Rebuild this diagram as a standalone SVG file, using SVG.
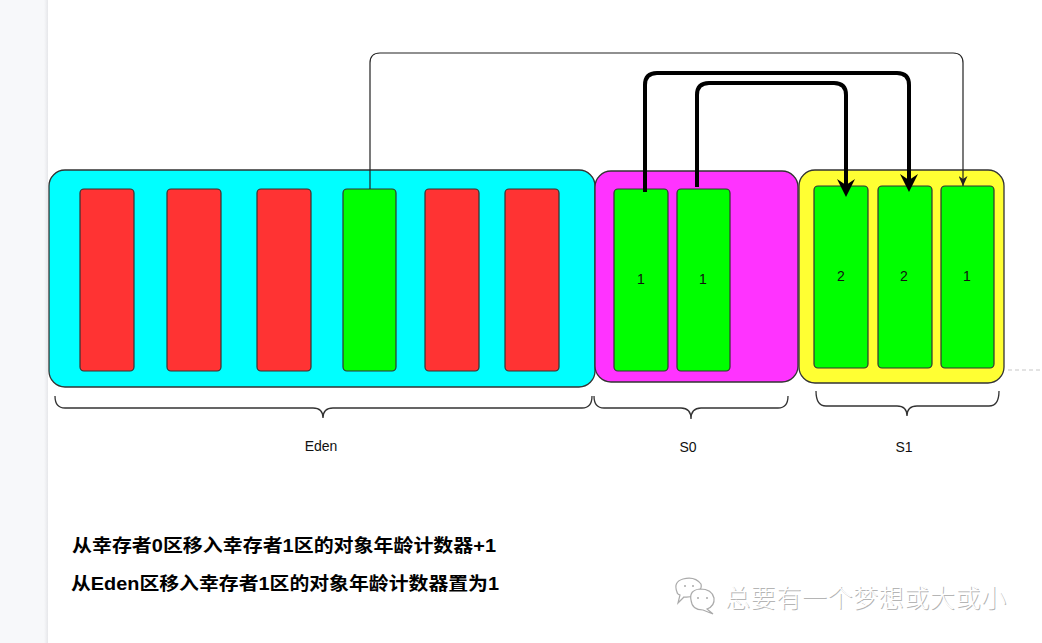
<svg xmlns="http://www.w3.org/2000/svg" width="1042" height="643" viewBox="0 0 1042 643">
<defs>
<style>
.box{stroke:#333;stroke-width:1.3}
.red{fill:#ff3333;stroke:#333;stroke-width:1.2}
.grn{fill:#00ff00;stroke:#333;stroke-width:1.2}
.lbl{font-family:"Liberation Sans",Arial,sans-serif;font-size:14px;fill:#111;text-anchor:middle}
.brace{fill:none;stroke:#333;stroke-width:1.3}
.thick{fill:none;stroke:#000;stroke-width:4;stroke-linejoin:round}
.thin{fill:none;stroke:#222;stroke-width:1.2}
.head{fill:#000}
.cap{font-family:"Liberation Sans","Noto Sans CJK SC",sans-serif;font-weight:bold;font-size:18px;fill:#000}
.wm{font-family:"Noto Sans CJK SC",sans-serif;font-weight:300;font-size:25px}
</style>
<path id="bighead" class="head" d="M-9,-18 L0,0 L9,-18 L0,-12 Z"/>
<marker id="as" markerUnits="userSpaceOnUse" viewBox="0 0 10 9" markerWidth="10" markerHeight="9" refX="10" refY="4.5" orient="auto">
<path d="M0,0 L10,4.5 L0,9 L3,4.5 Z" fill="#222"/>
</marker>
<linearGradient id="edge" x1="0" x2="1" y1="0" y2="0">
<stop offset="0" stop-color="#f7f8fa"/>
<stop offset="1" stop-color="#e6e7ea"/>
</linearGradient>
</defs>
<rect x="0" y="0" width="1042" height="643" fill="#ffffff"/>
<rect x="0" y="0" width="48" height="643" fill="#f7f8fa"/>
<rect x="44" y="0" width="4" height="643" fill="url(#edge)"/>

<g id="eden">
<rect class="box" x="49" y="170" width="546" height="217" rx="16" fill="#00ffff"/>
<rect class="red" x="80" y="189" width="54" height="182" rx="4"/>
<rect class="red" x="167" y="189" width="54" height="182" rx="4"/>
<rect class="red" x="257" y="189" width="54" height="182" rx="4"/>
<rect class="grn" x="343" y="189" width="53" height="182" rx="4"/>
<rect class="red" x="425" y="189" width="54" height="182" rx="4"/>
<rect class="red" x="505" y="189" width="54" height="182" rx="4"/>
</g>

<g id="s0">
<rect class="box" x="595" y="171" width="203" height="211" rx="16" fill="#ff33ff"/>
<rect class="grn" x="614" y="189" width="54" height="182" rx="4"/>
<text class="lbl" x="641" y="284">1</text>
<rect class="grn" x="677" y="189" width="53" height="182" rx="4"/>
<text class="lbl" x="703" y="284">1</text>
</g>

<g id="s1">
<rect class="box" x="799" y="170" width="205" height="213" rx="16" fill="#ffff33"/>
<rect class="grn" x="814" y="186" width="54" height="182" rx="4"/>
<text class="lbl" x="841" y="281">2</text>
<rect class="grn" x="878" y="186" width="54" height="182" rx="4"/>
<text class="lbl" x="904" y="281">2</text>
<rect class="grn" x="941" y="186" width="53" height="182" rx="4"/>
<text class="lbl" x="967" y="281">1</text>
</g>

<line x1="1008" y1="370" x2="1042" y2="370" stroke="#c8c8c8" stroke-width="1.2" stroke-dasharray="4 3"/>

<g id="braces">
<path class="brace" d="M55,396 Q55,408 65,408 H313 Q323,408 323,418 Q323,408 333,408 H582 Q592,408 592,396"/>
<path class="brace" d="M594,396 Q594,408 604,408 H681 Q691,408 691,419 Q691,408 701,408 H778 Q788,408 788,396"/>
<path class="brace" d="M816,391 Q816,406 826,406 H897 Q907,406 907,416 Q907,406 917,406 H989 Q999,406 999,391"/>
<text class="lbl" x="321" y="451">Eden</text>
<text class="lbl" x="688" y="452">S0</text>
<text class="lbl" x="904" y="452">S1</text>
</g>

<g id="connectors">
<path class="thin" d="M370,189 V63 Q370,53 380,53 H953 Q963,53 963,63 V186" marker-end="url(#as)"/>
<path class="thick" d="M645,192 V85 Q645,73 657,73 H897 Q909,73 909,85 V182"/>
<use href="#bighead" x="909" y="192"/>
<path class="thick" d="M697,187 V95 Q697,83 709,83 H834 Q846,83 846,95 V187"/>
<use href="#bighead" x="846" y="197"/>
</g>

<g id="captions">
<text class="cap" x="72" y="552" textLength="424" lengthAdjust="spacingAndGlyphs">从幸存者0区移入幸存者1区的对象年龄计数器+1</text>
<text class="cap" x="71" y="590" textLength="428" lengthAdjust="spacingAndGlyphs">从Eden区移入幸存者1区的对象年龄计数器置为1</text>
</g>

<g id="watermark">
<g fill="#fff" stroke="#aaa" stroke-width="1.2">
<path d="M677,592 Q673,582 683,579 Q695,576 701,584 Q702,588 699,591 Q694,598 684,597 L678,603 L680,595 Q677,594 677,592 Z"/>
<path d="M691,600 Q689,590 700,589 Q712,589 714,598 Q715,606 707,609 L713,614 L703,610 Q692,610 691,600 Z"/>
</g>
<g fill="#aaa">
<circle cx="685" cy="586" r="1"/><circle cx="693" cy="586" r="1"/>
<circle cx="698" cy="598" r="1"/><circle cx="707" cy="598" r="1"/>
</g>
<text class="wm" x="726" y="608" fill="#b5b5b5" textLength="281">总要有一个梦想或大或小</text>
<text class="wm" x="725" y="607" fill="#ffffff" textLength="281">总要有一个梦想或大或小</text>
</g>
</svg>
